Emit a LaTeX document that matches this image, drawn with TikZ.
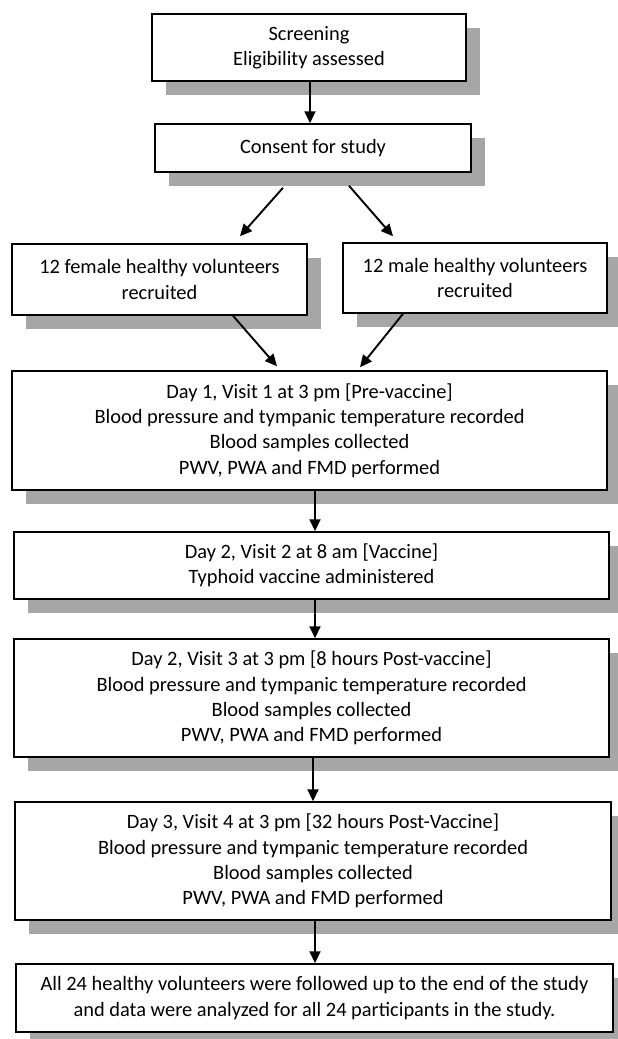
\documentclass[tikz,border=0pt]{standalone}
\usepackage{fontspec}
\setmainfont{Carlito}
\usetikzlibrary{arrows.meta,calc,shadows}
\definecolor{shadowgray}{HTML}{A6A6A6}
\begin{document}
\begin{tikzpicture}[x=1pt,y=-1pt,
  box/.style={draw=black, line width=1.5pt, fill=white, inner sep=0pt, align=center,
    font=\fontsize{20.4}{25.3}\selectfont,
    drop shadow={shadow xshift=14pt, shadow yshift=-14pt, fill=shadowgray, opacity=1}},
  arr/.style={line width=1.9pt, -{Triangle[length=12pt,width=11pt]}}]
\useasboundingbox (0,0) rectangle (618,1039);

\node[box, minimum width=314pt, minimum height=67pt] (scr) at (309,47.5) {Screening\\Eligibility assessed};
\node[box, minimum width=316pt, minimum height=48pt] (con) at (313,148) {Consent for study};
\node[box, minimum width=295pt, minimum height=71pt] (fem) at (159.5,279.5) {12 female healthy volunteers\\recruited};
\node[box, minimum width=264pt, minimum height=70pt] (mal) at (475,278) {12 male healthy volunteers\\recruited};
\node[box, minimum width=595pt, minimum height=119pt] (d1) at (309.5,430.5) {Day 1, Visit 1 at 3 pm [Pre-vaccine]\\Blood pressure and tympanic temperature recorded\\Blood samples collected\\PWV, PWA and FMD performed};
\node[box, minimum width=595pt, minimum height=67pt] (d2) at (311.5,565.5) {Day 2, Visit 2 at 8 am [Vaccine]\\Typhoid vaccine administered};
\node[box, minimum width=595pt, minimum height=118pt] (d3) at (311.5,698) {Day 2, Visit 3 at 3 pm [8 hours Post-vaccine]\\Blood pressure and tympanic temperature recorded\\Blood samples collected\\PWV, PWA and FMD performed};
\node[box, minimum width=596pt, minimum height=118pt] (d4) at (313,861) {Day 3, Visit 4 at 3 pm [32 hours Post-Vaccine]\\Blood pressure and tympanic temperature recorded\\Blood samples collected\\PWV, PWA and FMD performed};
\node[box, minimum width=597pt, minimum height=68pt] (fin) at (314.5,998) {All 24 healthy volunteers were followed up to the end of the study\\and data were analyzed for all 24 participants in the study.};

\draw[arr] ($(scr.south)+(1,0)$) -- ($(con.north)+(-3,0)$);
\draw[arr] ($(con.south)+(-30,15)$) -- ($(fem.north)+(80.5,-7)$);
\draw[arr] ($(con.south)+(36,13)$) -- ($(mal.north)+(-82,-6)$);
\draw[arr] ($(fem.south)+(73.5,0)$) -- ($(d1.north)+(-32.5,-4)$);
\draw[arr] ($(mal.south)+(-72,0)$) -- ($(d1.north)+(50.5,-3)$);
\draw[arr] ($(d1.south)+(5.5,0)$) -- ($(d2.north)+(3.5,0)$);
\draw[arr] ($(d2.south)+(3.5,0)$) -- ($(d3.north)+(3.5,0)$);
\draw[arr] ($(d3.south)+(1.5,0)$) -- ($(d4.north)+(0,0)$);
\draw[arr] ($(d4.south)+(2,0)$) -- ($(fin.north)+(0.5,0)$);
\end{tikzpicture}
\end{document}
